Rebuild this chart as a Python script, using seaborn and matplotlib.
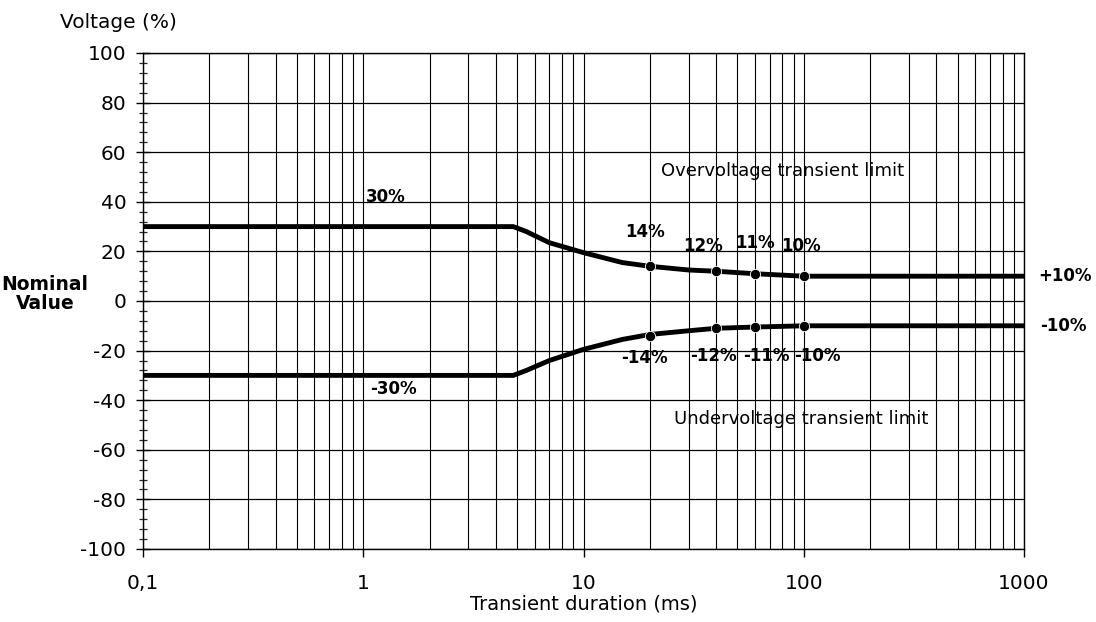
import numpy as np
import pandas as pd
import matplotlib
matplotlib.use("Agg")
import matplotlib.pyplot as plt
import seaborn as sns
from matplotlib.ticker import LogLocator, MultipleLocator, NullFormatter

# valores
dur_up = [0.1, 4.8, 5.5, 7, 10, 15, 20, 30, 40, 60, 100, 1000]
volt_up = [30, 30, 28, 23.5, 19.5, 15.5, 14, 12.5, 12, 11, 10, 10]
dur_low = [0.1, 4.8, 5.5, 7, 10, 15, 20, 30, 40, 60, 100, 1000]
volt_low = [-30, -30, -28, -24, -19.5, -15.5, -13.5, -12, -11, -10.5, -10, -10]

mark_dur = [20, 40, 60, 100]
mark_up = [14, 12, 11, 10]
mark_low = [-14, -11, -10.5, -10]

up_labels = ["14%", "12%", "11%", "10%"]
up_lab_x = [19, 35, 60, 97]
up_lab_y = [28, 22, 23.5, 22]
low_labels = ["-14%", "-12%", "-11%", "-10%"]
low_lab_x = [19, 39, 68, 115]
low_lab_y = [-23, -22, -22, -22]

xticks = [0.1, 1, 10, 100, 1000]
xtick_labels = ["0,1", "1", "10", "100", "1000"]
yticks = [-100, -80, -60, -40, -20, 0, 20, 40, 60, 80, 100]

df_up = pd.DataFrame({"dur": dur_up, "volt": volt_up})
df_low = pd.DataFrame({"dur": dur_low, "volt": volt_low})

sns.set_theme(style="white")
plt.rcParams['font.family'] = ['DejaVu Sans']
plt.rcParams['axes.unicode_minus'] = False
plt.rcParams['text.color'] = 'black'
plt.rcParams['axes.labelcolor'] = 'black'

fig = plt.figure(figsize=(10.96, 6.22), dpi=100)
ax = fig.add_axes([143/1096, 73/622, 881/1096, 496/622])

# rejilla
ax.set_xscale("log")
ax.set_xlim(0.1, 1000)
ax.set_ylim(-100, 100)
ax.xaxis.set_major_locator(LogLocator(base=10))
ax.xaxis.set_minor_locator(LogLocator(base=10, subs=np.arange(2, 10)))
ax.xaxis.set_minor_formatter(NullFormatter())
ax.set_xticks(xticks, xtick_labels)
ax.set_yticks(yticks, [str(v) for v in yticks])
ax.yaxis.set_minor_locator(MultipleLocator(4))
ax.grid(True, which="both", axis="x", color="black", lw=0.8)
ax.grid(True, which="major", axis="y", color="black", lw=0.9)
ax.set_axisbelow(True)

# curvas
sns.lineplot(data=df_up, x="dur", y="volt", color="black", lw=3.5, ax=ax)
sns.lineplot(data=df_low, x="dur", y="volt", color="black", lw=3.5, ax=ax)
sns.scatterplot(x=mark_dur, y=mark_up, color="black", s=55, ax=ax, zorder=5)
sns.scatterplot(x=mark_dur, y=mark_low, color="black", s=55, ax=ax, zorder=5)

for sp in ax.spines.values():
    sp.set_color("black")
    sp.set_linewidth(1.0)

ax.tick_params(axis="y", which="major", direction="inout", length=10, width=1,
               labelsize=14.5, pad=7, left=True, colors="black")
ax.tick_params(axis="y", which="minor", direction="inout", length=6, width=0.9, left=True)
ax.tick_params(axis="x", which="major", direction="out", length=6, width=1,
               labelsize=14.5, pad=12, bottom=True, colors="black")
ax.tick_params(axis="x", which="minor", length=0)

ax.set_xlabel("Transient duration (ms)", fontsize=14, labelpad=1)
ax.set_ylabel("")

# textos
ax.text(1.26, 42, "30%", fontsize=12, fontweight="bold", ha="center", va="center")
ax.text(1.37, -35.5, "-30%", fontsize=12, fontweight="bold", ha="center", va="center")
for t, x, y in zip(up_labels, up_lab_x, up_lab_y):
    ax.text(x, y, t, fontsize=12, fontweight="bold", ha="center", va="center")
for t, x, y in zip(low_labels, low_lab_x, low_lab_y):
    ax.text(x, y, t, fontsize=12, fontweight="bold", ha="center", va="center")
ax.text(80, 52.5, "Overvoltage transient limit", fontsize=13, ha="center", va="center")
ax.text(97, -47.5, "Undervoltage transient limit", fontsize=13, ha="center", va="center")
ax.text(1.016, 10, "+10%", fontsize=12, fontweight="bold", ha="left", va="center",
        transform=ax.get_yaxis_transform())
ax.text(1.018, -10, "-10%", fontsize=12, fontweight="bold", ha="left", va="center",
        transform=ax.get_yaxis_transform())
fig.text(45/1096, 1 - 294/622, "Nominal\nValue", fontsize=13.5, fontweight="bold",
         ha="center", va="center", linespacing=1.05)
fig.text(60/1096, 1 - 22/622, "Voltage (%)", fontsize=14.5, ha="left", va="center")

fig.savefig("out.png", dpi=100)
